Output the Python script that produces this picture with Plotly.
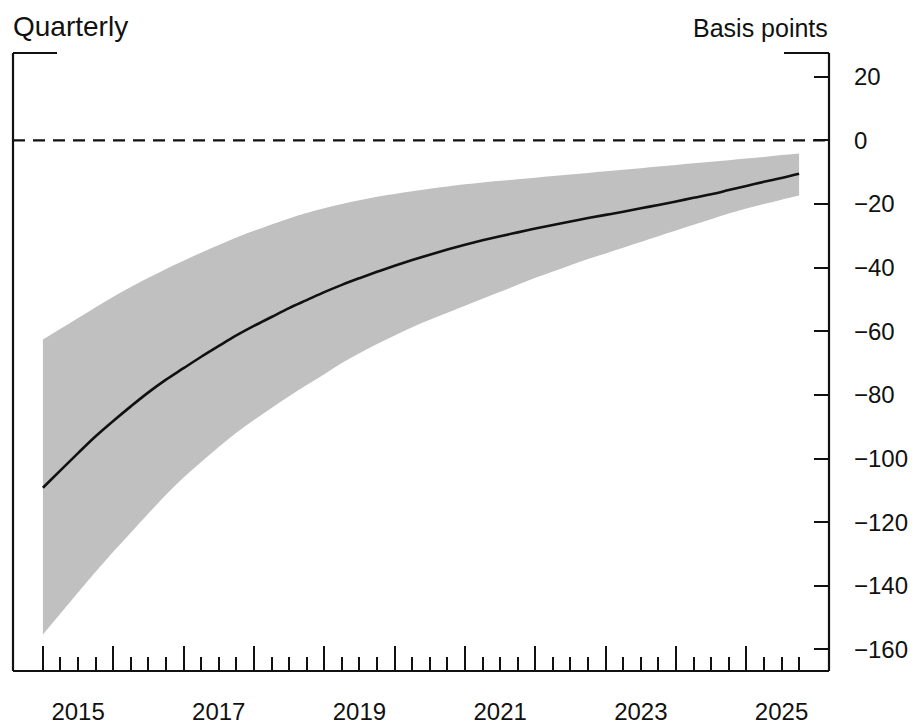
import plotly.graph_objects as go

# Quarterly horizon 2015Q1 .. 2025Q4
years = list(range(2015, 2026))
quarters = [1, 2, 3, 4]
x_vals = [y + (q - 1) / 4 for y in years for q in quarters]

# Central estimate (basis points)
center = [-109.2, -103.7, -98.3, -93.0, -88.2, -83.6, -79.2, -75.2,
          -71.6, -68.0, -64.6, -61.3, -58.3, -55.5, -52.7, -50.2,
          -47.7, -45.4, -43.3, -41.3, -39.4, -37.6, -35.9, -34.3,
          -32.8, -31.4, -30.1, -28.9, -27.7, -26.6, -25.5, -24.4,
          -23.4, -22.4, -21.3, -20.3, -19.2, -18.0, -16.9, -15.6,
          -14.3, -13.0, -11.8, -10.5]

# Upper bound of shaded band
upper = [-62.6, -59.2, -55.8, -52.4, -49.1, -46.1, -43.2, -40.4,
         -37.8, -35.3, -32.9, -30.5, -28.4, -26.4, -24.5, -22.8,
         -21.3, -20.0, -18.8, -17.7, -16.8, -16.0, -15.2, -14.5,
         -13.8, -13.2, -12.7, -12.2, -11.7, -11.2, -10.7, -10.2,
         -9.7, -9.2, -8.7, -8.2, -7.7, -7.2, -6.7, -6.2,
         -5.7, -5.2, -4.6, -4.1]

# Lower bound of shaded band
lower = [-155.3, -148.7, -142.1, -135.6, -129.3, -123.3, -117.3, -111.4,
         -106.0, -101.1, -96.4, -91.9, -87.9, -84.1, -80.4, -76.9,
         -73.5, -70.0, -66.9, -64.0, -61.3, -58.7, -56.4, -54.2,
         -52.0, -49.8, -47.6, -45.4, -43.2, -41.2, -39.2, -37.3,
         -35.5, -33.7, -31.9, -30.1, -28.3, -26.5, -24.8, -23.0,
         -21.4, -20.0, -18.6, -17.3]

y_ticks = [20, 0, -20, -40, -60, -80, -100, -120, -140, -160]
year_labels = ["2015", "2017", "2019", "2021", "2023", "2025"]
year_label_pos = [int(s) + 0.5 for s in year_labels]
minor_quarters = [x for x in x_vals if x != int(x)]

FONT = "Liberation Sans, Arial, sans-serif"
INK = "#111111"
BAND = "#c0c0c0"

fig = go.Figure()
fig.add_trace(go.Scatter(x=x_vals, y=upper, mode="lines",
                         line=dict(width=0, color=BAND, shape="spline"),
                         showlegend=False, hoverinfo="skip"))
fig.add_trace(go.Scatter(x=x_vals, y=lower, mode="lines",
                         line=dict(width=0, color=BAND, shape="spline"),
                         fill="tonexty", fillcolor=BAND,
                         showlegend=False, hoverinfo="skip"))
fig.add_trace(go.Scatter(x=x_vals, y=center, mode="lines",
                         line=dict(width=2.6, color=INK, shape="spline"),
                         showlegend=False))
# invisible trace to activate the year-label axis
fig.add_trace(go.Scatter(x=[x_vals[0]], y=[center[0]], xaxis="x2",
                         mode="markers", marker=dict(opacity=0),
                         showlegend=False, hoverinfo="skip"))

xr = [2014.575, 2026.175]
yr = [-166.8, 27.5]

# page body adds an 8px offset, so the figure is sized 8px smaller
fig.update_layout(
    width=911, height=717,
    margin=dict(l=5, r=90, t=45, b=54),
    paper_bgcolor="white", plot_bgcolor="white",
    font=dict(family=FONT, size=24, color=INK),
    xaxis=dict(range=xr, showgrid=False, zeroline=False, showline=False,
               automargin=False,
               tickmode="array", tickvals=years, ticks="inside",
               ticklen=25, tickwidth=2, tickcolor=INK,
               showticklabels=False,
               minor=dict(tickmode="array", tickvals=minor_quarters,
                          ticks="inside", ticklen=14, tickwidth=2,
                          tickcolor=INK, showgrid=False)),
    xaxis2=dict(range=xr, overlaying="x", side="bottom", showgrid=False,
                zeroline=False, showline=False, automargin=False,
                tickmode="array", tickvals=year_label_pos,
                ticktext=year_labels, ticks="",
                ticklabelstandoff=24, tickfont=dict(size=24, color=INK)),
    yaxis=dict(range=yr, side="right", showgrid=False, zeroline=False,
               showline=False, automargin=False,
               tickmode="array", tickvals=y_ticks,
               ticks="inside", ticklen=15, tickwidth=2, tickcolor=INK,
               ticklabelstandoff=24, tickfont=dict(size=24, color=INK)),
    shapes=[
        dict(type="line", xref="paper", yref="y", x0=0, x1=1, y0=0, y1=0,
             line=dict(color=INK, width=2.2, dash="12px,8px")),
        dict(type="line", xref="paper", yref="paper", x0=0, x1=0, y0=0, y1=1,
             line=dict(color=INK, width=2.2)),
        dict(type="line", xref="paper", yref="paper", x0=1, x1=1, y0=0, y1=1,
             line=dict(color=INK, width=2.2)),
        dict(type="line", xref="paper", yref="paper", x0=0, x1=1, y0=0, y1=0,
             line=dict(color=INK, width=2.2)),
        dict(type="line", xref="paper", yref="paper", x0=0, x1=44 / 816, y0=1, y1=1,
             line=dict(color=INK, width=2.2)),
        dict(type="line", xref="paper", yref="paper", x0=1 - 45 / 816, x1=1, y0=1, y1=1,
             line=dict(color=INK, width=2.2)),
    ],
    annotations=[
        dict(text="Quarterly", xref="paper", yref="paper", x=0, y=1,
             xanchor="left", yanchor="middle", yshift=27, xshift=-2,
             showarrow=False, font=dict(size=28, color=INK)),
        dict(text="Basis points", xref="paper", yref="paper", x=1, y=1,
             xanchor="right", yanchor="middle", yshift=25, xshift=1,
             showarrow=False, font=dict(size=25, color=INK)),
    ],
)

fig.write_html("out.html")
